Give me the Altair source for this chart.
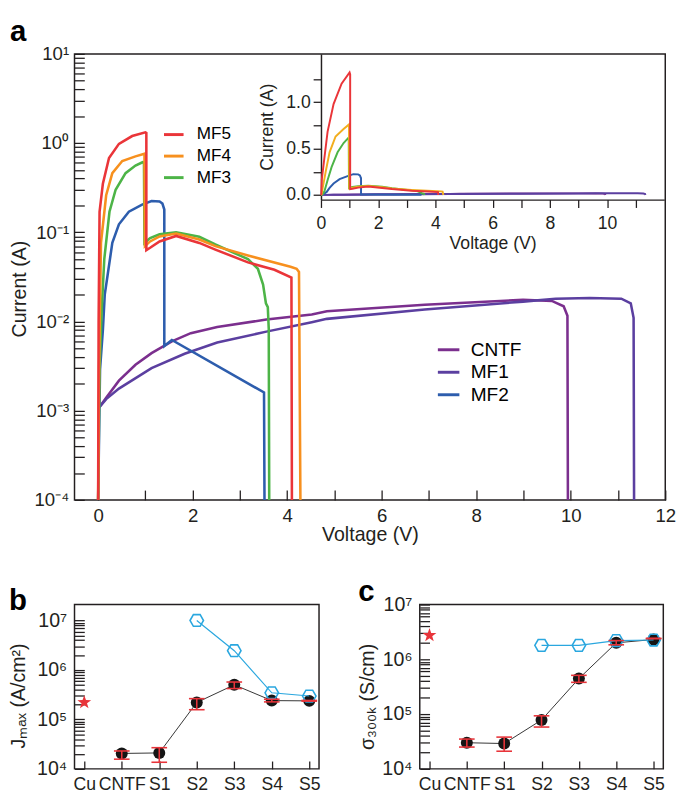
import altair as alt
import pandas as pd

FONT = "Liberation Sans"
INK = "#231F20"

# ---------------- Panel a: I-V curves (voltage in V, current in A) ----------------
cntf_v = [0.03, 0.17, 0.44, 0.79, 1.13, 1.56, 1.96, 2.52, 3.56, 4.52, 4.84, 6.91, 8.99, 9.6, 9.85, 9.93, 9.94]
cntf_i = [1.1e-3, 1.4e-3, 2.17e-3, 3.27e-3, 4.42e-3, 6.0e-3, 7.4e-3, 8.7e-3, 1.05e-2, 1.2e-2, 1.3e-2,
          1.54e-2, 1.75e-2, 1.7e-2, 1.48e-2, 1.16e-2, 1e-4]
mf1_v = [0.03, 0.17, 0.44, 1.13, 1.83, 2.52, 3.56, 4.52, 4.84, 6.91, 8.99, 9.68, 10.4, 11.07, 11.27, 11.33, 11.34]
mf1_i = [1.1e-3, 1.35e-3, 1.77e-3, 3.0e-3, 4.35e-3, 5.8e-3, 7.7e-3, 9.8e-3, 1.07e-2, 1.36e-2, 1.67e-2,
         1.8e-2, 1.83e-2, 1.8e-2, 1.6e-2, 1.1e-2, 1e-4]
mf2_v = [0.0, 0.04, 0.1, 0.14, 0.2, 0.3, 0.44, 0.65, 0.93, 1.13, 1.3, 1.36, 1.40, 1.40, 1.56, 3.51, 3.52]
mf2_i = [1e-4, 2.9e-3, 8e-3, 2.0e-2, 3.3e-2, 7.6e-2, 0.123, 0.17, 0.204, 0.224, 0.222, 0.21, 0.18,
         5.3e-3, 6.2e-3, 1.6e-3, 1e-4]
mf3_v = [0.0, 0.03, 0.08, 0.13, 0.24, 0.37, 0.58, 0.79, 0.94, 0.97, 0.98, 1.1, 1.3, 1.65, 2.14, 2.48, 3.17,
         3.38, 3.49, 3.55, 3.59, 3.61, 3.62]
mf3_i = [1e-4, 3e-3, 1.5e-2, 5e-2, 0.17, 0.30, 0.46, 0.56, 0.61, 0.60, 0.076, 0.086, 0.095, 0.10, 0.089,
         0.073, 0.050, 0.039, 0.026, 0.016, 0.0145, 0.0083, 1e-4]
mf4_v = [0.0, 0.02, 0.06, 0.17, 0.3, 0.51, 0.79, 0.98, 0.99, 1.1, 1.3, 1.65, 2.14, 2.48, 3.17, 4.07, 4.2,
         4.25, 4.28]
mf4_i = [1e-4, 3e-3, 7.6e-2, 0.26, 0.46, 0.63, 0.71, 0.76, 0.07, 0.079, 0.09, 0.097, 0.083, 0.070, 0.055,
         0.041, 0.039, 0.036, 1e-4]
mf5_v = [0.0, 0.01, 0.03, 0.1, 0.23, 0.44, 0.72, 1.0, 1.02, 1.02, 1.1, 1.3, 1.65, 2.14, 2.48, 3.17, 3.73,
         4.09, 4.1]
mf5_i = [1e-4, 1e-2, 0.17, 0.35, 0.68, 0.98, 1.2, 1.32, 1.30, 0.063, 0.067, 0.079, 0.091, 0.076, 0.064,
         0.046, 0.038, 0.031, 1e-4]

series_order = ["CNTF", "MF1", "MF2", "MF3", "MF4", "MF5"]
curve_v = {"CNTF": cntf_v, "MF1": mf1_v, "MF2": mf2_v, "MF3": mf3_v, "MF4": mf4_v, "MF5": mf5_v}
curve_i = {"CNTF": cntf_i, "MF1": mf1_i, "MF2": mf2_i, "MF3": mf3_i, "MF4": mf4_i, "MF5": mf5_i}
main_colors = {"CNTF": "#7B2F8E", "MF1": "#5B3FA0", "MF2": "#2D5DAD",
               "MF3": "#4DB447", "MF4": "#F7901E", "MF5": "#EA3539"}
inset_colors = dict(main_colors, MF4="#F2AE1E")
legend_top = ["MF5", "MF4", "MF3"]
legend_bottom = ["CNTF", "MF1", "MF2"]

rows = []
for s in series_order:
    for k, (v, i) in enumerate(zip(curve_v[s], curve_i[s])):
        rows.append({"series": s, "V": v, "I": i, "k": k})
df_a = pd.DataFrame(rows)

# ---------------- Panels b and c ----------------
categories = ["Cu", "CNTF", "S1", "S2", "S3", "S4", "S5"]
sample_cats = ["CNTF", "S1", "S2", "S3", "S4", "S5"]
hex_cats = ["S2", "S3", "S4", "S5"]

jmax_cu = 2.2e5
jmax_mean = [2.05e4, 2.1e4, 2.2e5, 5.0e5, 2.4e5, 2.37e5]
jmax_hi = [2.3e4, 2.68e4, 2.63e5, 5.7e5, 2.56e5, 2.42e5]
jmax_lo = [1.57e4, 1.36e4, 1.57e5, 4.2e5, 2.26e5, 2.34e5]
jmax_hex = [1.0e7, 2.45e6, 3.45e5, 2.97e5]

sigma_cu = 2.75e6
sigma_mean = [3.0e4, 2.9e4, 7.8e4, 4.45e5, 2.0e6, 2.3e6]
sigma_hi = [3.5e4, 3.8e4, 9.3e4, 5.1e5, 2.2e6, 2.42e6]
sigma_lo = [2.5e4, 2.1e4, 5.8e4, 3.8e5, 1.84e6, 2.38e6]
sigma_hex = [1.8e6, 1.8e6, 2.2e6, 2.25e6]

RED = "#E8343A"
BLUE = "#2AA7DF"
HEX = "M-1,0L-0.5,-0.866L0.5,-0.866L1,0L0.5,0.866L-0.5,0.866Z"
STAR = ("M0,-1L0.235,-0.324L0.951,-0.309L0.38,0.124L0.588,0.809L0,0.4L-0.588,0.809"
        "L-0.38,0.124L-0.951,-0.309L-0.235,-0.324Z")

SUP = {"-": "\u207b", "0": "\u2070", "1": "\u00b9", "2": "\u00b2", "3": "\u00b3", "4": "\u2074",
       "5": "\u2075", "6": "\u2076", "7": "\u2077", "8": "\u2078", "9": "\u2079"}


def pow_expr(exps):
    parts = []
    for e in exps:
        s = "10" + "".join(SUP[c] for c in str(e))
        parts.append(f"abs(log(datum.value)/LN10 - ({e})) < 0.001 ? '{s}'")
    return " : ".join(parts) + " : ''"


def log_ticks(e_lo, e_hi):
    vals = [float(f"{m}e{e}") for e in range(e_lo, e_hi) for m in range(1, 10)]
    vals.append(float(f"1e{e_hi}"))
    return vals


def y_axis_inward(W, e_lo, e_hi, title, title_x, title_y, lab_fs, tit_fs, pad):
    return alt.Axis(orient="right", offset=-W, values=log_ticks(e_lo, e_hi),
                    labelExpr=pow_expr(list(range(e_lo, e_hi + 1))),
                    tickSize=10, labelPadding=-(10 + pad), labelAlign="right", labelBaseline="middle",
                    labelOverlap=False, labelFontSize=lab_fs, domain=False, grid=False,
                    title=title, titleAngle=270, titleX=title_x, titleY=title_y,
                    titleAlign="center", titleBaseline="bottom", titleFontSize=tit_fs)


def letter_title(t, off):
    return alt.TitleParams(t, anchor="start", fontSize=30, fontWeight="bold", frame="bounds", offset=off,
                           color="black")


# ---------------- build panel a ----------------
WA, HA = 604, 456
x_main_axis = alt.Axis(orient="top", offset=-HA, values=list(range(0, 13)),
                       labelExpr="datum.value % 2 == 0 ? datum.label : ''",
                       tickSize=10, labelPadding=-17, labelBaseline="top", labelFlush=False,
                       labelOverlap=False, labelFontSize=19, domain=False, grid=False,
                       title="Voltage (V)", titleX=WA / 2, titleY=26, titleAlign="center",
                       titleBaseline="top", titleFontSize=20)
y_main_axis = y_axis_inward(WA, -4, 1, "Current (A)", -46, 240, 19, 20, 6)

xA = alt.X("V:Q", scale=alt.Scale(domain=[-0.5, 12], nice=False, zero=False), axis=x_main_axis)
yA = alt.Y("I:Q", scale=alt.Scale(type="log", domain=[1e-4, 10], nice=False), axis=y_main_axis)

leg_top = alt.Legend(orient="none", legendX=90, legendY=71, title=None, symbolType="stroke",
                     symbolSize=400, symbolStrokeWidth=3, labelFontSize=17.5, labelOffset=12,
                     rowPadding=2, padding=0, labelFont=FONT)
leg_bot = alt.Legend(orient="none", legendX=370, legendY=290, title=None, symbolType="stroke",
                     symbolSize=484, symbolStrokeWidth=3, labelFontSize=19.5, labelOffset=10,
                     rowPadding=1, padding=0, labelFont=FONT)
color_scale = alt.Scale(domain=legend_top, range=[main_colors[s] for s in legend_top])
stroke_scale = alt.Scale(domain=legend_bottom, range=[main_colors[s] for s in legend_bottom])

main_layers = []
for s in series_order:
    enc = dict(x=xA, y=yA, order="k:Q")
    if s in legend_bottom:
        enc["stroke"] = alt.Stroke("series:N", scale=stroke_scale, legend=leg_bot)
    else:
        enc["color"] = alt.Color("series:N", scale=color_scale, legend=leg_top)
    main_layers.append(
        alt.Chart(df_a).transform_filter(alt.datum.series == s)
        .mark_line(strokeWidth=2.6).encode(**enc))
main = alt.layer(*main_layers)

IH = 149
inset_x_axis = alt.Axis(orient="bottom", offset=-(HA - IH), values=list(range(0, 12)),
                        labelExpr="datum.value % 2 == 0 ? datum.label : ''",
                        tickSize=8, labelPadding=8, labelFlush=False, labelOverlap=False,
                        labelFontSize=18, title="Voltage (V)", titleFontSize=18, titlePadding=2,
                        grid=False)
inset_y_axis = alt.Axis(orient="left", offset=-252, values=[0, 0.25, 0.5, 0.75, 1.0, 1.25],
                        labelExpr="abs(datum.value*2 - round(datum.value*2)) < 0.001 ? format(datum.value, '.1f') : ''",
                        tickSize=8, labelPadding=3, labelOverlap=False, labelFontSize=18,
                        title="Current (A)", titleFontSize=18, titlePadding=10, grid=False)
xI = alt.X("V:Q", scale=alt.Scale(domain=[0, 12], range=[252, 603], nice=False, zero=False), axis=inset_x_axis)
yI = alt.Y("I:Q", scale=alt.Scale(domain=[-0.05, 1.52], range=[IH, 0], nice=False, zero=False), axis=inset_y_axis)

inset_layers = [
    alt.Chart(df_a).transform_filter(alt.datum.series == s)
    .mark_line(strokeWidth=2, color=inset_colors[s])
    .encode(x=xI, y=yI, order="k:Q")
    for s in series_order
]
inset = alt.layer(*inset_layers)

panel_a = alt.layer(main, inset).resolve_scale(x="independent", y="independent").properties(
    width=WA, height=HA, title=letter_title("a", -2))


# ---------------- build panels b and c ----------------
def small_panel(letter, W, cu_val, mean, lo, hi, hexv, ydom, title, title_x, title_y):
    H = 168
    xax = alt.Axis(orient="top", offset=-H, tickSize=8, labelPadding=-15.5, labelBaseline="top",
                   labelFontSize=18, labelOverlap=False, labelAngle=0,
                   domain=False, grid=False, title=None)
    yax = y_axis_inward(W, 4, 7, title, title_x, title_y, 20, 20, 8)
    xs = alt.Scale(type="point", domain=categories, padding=0.26)
    ys = alt.Scale(type="log", domain=ydom, nice=False)

    def X():
        return alt.X("cat:N", scale=xs, axis=xax)

    def Y(f):
        return alt.Y(f + ":Q", scale=ys, axis=yax)

    pts = pd.DataFrame({"cat": sample_cats, "val": mean, "lo": lo, "hi": hi, "k": list(range(len(mean)))})
    hexdf = pd.DataFrame({"cat": hex_cats, "val": hexv, "k": list(range(len(hexv)))})
    cudf = pd.DataFrame({"cat": ["Cu"], "val": [cu_val]})

    layers = [
        alt.Chart(pts).mark_line(color="#333333", strokeWidth=1).encode(x=X(), y=Y("val"), order="k:Q"),
        alt.Chart(pts).mark_circle(size=150, color="#151515", opacity=1).encode(x=X(), y=Y("val")),
        alt.Chart(hexdf).mark_line(color=BLUE, strokeWidth=1.2).encode(x=X(), y=Y("val"), order="k:Q"),
        alt.Chart(hexdf).mark_point(shape=HEX, size=190, filled=False, color=BLUE, strokeWidth=1.6,
                                    opacity=1).encode(x=X(), y=Y("val")),
        alt.Chart(cudf).mark_point(shape=STAR, size=220, filled=True, color=RED, opacity=1).encode(
            x=X(), y=Y("val")),
        alt.Chart(pts).mark_rule(color=RED, strokeWidth=1.6).encode(x=X(), y=Y("lo"), y2="hi:Q"),
        alt.Chart(pts).mark_tick(color=RED, size=16, thickness=1.6, opacity=1).encode(x=X(), y=Y("lo")),
        alt.Chart(pts).mark_tick(color=RED, size=16, thickness=1.6, opacity=1).encode(x=X(), y=Y("hi")),
    ]
    return alt.layer(*layers).properties(width=W, height=H, title=letter_title(letter, -12))


panel_b = small_panel("b", 250, jmax_cu, jmax_mean, jmax_lo, jmax_hi, jmax_hex, [1e4, 2.1e7],
                      "J\u2098\u2090\u2093 (A/cm\u00b2)", -47, 93)
panel_c = small_panel("c", 249, sigma_cu, sigma_mean, sigma_lo, sigma_hi, sigma_hex, [1e4, 1e7],
                      "\u03c3\u2083\u2080\u2080\u2096 (S/cm)", -43, 94)

chart = alt.vconcat(panel_a, alt.hconcat(panel_b, panel_c, spacing=37), spacing=31).properties(
    padding=0
).configure(font=FONT).configure_view(stroke=INK, strokeWidth=1.5).configure_axis(
    domainColor=INK, tickColor=INK, labelColor=INK, titleColor=INK, tickWidth=1.3, domainWidth=1.5,
    grid=False, titleFontWeight="normal", labelFont=FONT, titleFont=FONT
).configure_text(font=FONT)

chart.save("out.html", embed_options={"renderer": "svg", "actions": False})
